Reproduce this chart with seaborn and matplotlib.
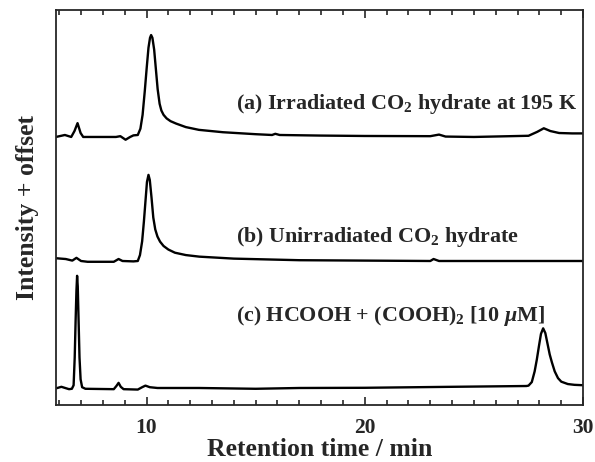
import numpy as np
import pandas as pd
import seaborn as sns
from matplotlib import pyplot as plt
from matplotlib.ticker import MultipleLocator

# chromatogram points (time in min, intensity above own baseline)
time_a = [5.85, 6.26, 6.55, 6.70, 6.84, 6.98, 7.10, 8.60, 8.80, 9.04, 9.25, 9.40, 9.60,
          9.72, 9.82, 9.92, 10.01, 10.09, 10.16, 10.21, 10.27, 10.35, 10.43, 10.51, 10.60,
          10.68, 10.78, 10.92, 11.10, 11.35, 11.8, 12.4, 13.5, 15.0, 15.75, 15.9, 16.1,
          18.0, 20.0, 23.0, 23.4, 23.7, 25.0, 27.5, 27.9, 28.2, 28.5, 28.9, 29.5, 30.0]
int_a = [-0.1, 0.4, -0.1, 1.4, 3.4, 0.9, -0.1, -0.1, 0.1, -0.8, -0.1, 0.3, 0.4,
         2.0, 5.5, 11.5, 17.5, 22.5, 25.0, 25.7, 25.0, 22.0, 17.0, 12.0, 8.3,
         6.6, 5.5, 4.6, 3.9, 3.3, 2.4, 1.7, 1.1, 0.6, 0.4, 0.7, 0.4,
         0.25, 0.15, 0.1, 0.5, 0.0, -0.1, 0.2, 1.2, 2.1, 1.4, 0.9, 0.8, 0.8]

time_b = [5.85, 6.3, 6.6, 6.79, 7.0, 7.3, 8.5, 8.72, 8.9, 9.4, 9.6,
          9.70, 9.80, 9.88, 9.95, 10.02, 10.09, 10.15, 10.23, 10.31, 10.40, 10.50,
          10.62, 10.78, 11.0, 11.3, 11.8, 12.42, 14.0, 17.0, 20.0, 23.0, 23.15, 23.4, 30.0]
int_b = [0.7, 0.5, 0.1, 0.8, 0.0, -0.2, -0.2, 0.5, 0.0, -0.1, 0.0,
         1.5, 5.0, 10.0, 15.0, 20.0, 21.8, 20.5, 16.0, 11.0, 8.0, 6.2,
         4.9, 3.8, 2.9, 2.1, 1.5, 1.1, 0.6, 0.2, 0.1, 0.0, 0.5, 0.0, 0.0]

time_c = [5.85, 6.1, 6.45, 6.58, 6.66, 6.71, 6.75, 6.79, 6.82, 6.85, 6.89, 6.93, 6.98,
          7.05, 7.2, 8.5, 8.62, 8.72, 8.82, 8.95, 9.6, 9.80, 9.95, 10.15, 10.5, 12.4,
          15.0, 17.0, 20.0, 24.0, 27.4, 27.5, 27.65, 27.78, 27.88, 27.98, 28.07, 28.17,
          28.27, 28.37, 28.47, 28.57, 28.7, 28.85, 29.0, 29.3, 29.6, 30.0]
int_c = [0.2, 0.6, 0.0, 0.1, 1.0, 8.0, 17.0, 25.0, 28.7, 26.0, 17.0, 8.0, 2.5,
         0.5, 0.1, 0.0, 0.8, 1.6, 0.6, 0.0, -0.1, 0.5, 0.9, 0.5, 0.3, 0.3,
         0.1, 0.3, 0.35, 0.6, 0.8, 0.9, 1.8, 4.5, 7.5, 11.0, 14.0, 15.4,
         14.2, 11.5, 8.8, 6.8, 4.5, 2.8, 1.9, 1.3, 1.1, 1.0]

offsets = [68.0, 36.5, 4.05]
labels = ["(a) Irradiated CO$_2$ hydrate at 195 K",
          "(b) Unirradiated CO$_2$ hydrate",
          "(c) HCOOH + (COOH)$_2$ [10 $\\mu$M]"]
label_y = [75.1, 41.3, 21.3]

sns.set_style("ticks")
plt.rcParams["font.family"] = ["Liberation Serif", "DejaVu Serif"]
plt.rcParams["font.weight"] = "bold"
plt.rcParams["mathtext.fontset"] = "custom"
plt.rcParams["mathtext.rm"] = "Liberation Serif:bold"
plt.rcParams["mathtext.it"] = "Liberation Serif:bold:italic"
plt.rcParams["mathtext.bf"] = "Liberation Serif:bold"

fig = plt.figure(figsize=(5.95, 4.62), dpi=100)
ax = fig.add_axes([0.094, 0.123, 0.886, 0.855])

traces = [(time_a, int_a), (time_b, int_b), (time_c, int_c)]
for (t, v), off in zip(traces, offsets):
    df = pd.DataFrame({"t": t, "v": np.array(v) + off})
    sns.lineplot(data=df, x="t", y="v", color="black", linewidth=1.7, ax=ax)

for lab, y in zip(labels, label_y):
    ax.text(14.1, y, lab, fontsize=15.8, fontweight="bold", va="baseline", ha="left")

ax.set_xlim(5.85, 30)
ax.set_ylim(0, 100)
ax.xaxis.set_major_locator(MultipleLocator(10))
ax.xaxis.set_minor_locator(MultipleLocator(1))
ax.set_yticks([])
ax.tick_params(axis="x", which="both", direction="in", top=True, bottom=True,
               labelsize=15.5, width=1.2, pad=9)
ax.tick_params(axis="x", which="major", length=6)
ax.tick_params(axis="x", which="minor", length=3.5)
for lab in ax.get_xticklabels():
    lab.set_fontweight("bold")
for sp in ax.spines.values():
    sp.set_visible(True)
    sp.set_linewidth(1.3)

ax.set_xlabel("Retention time / min", fontsize=18.5, fontweight="bold", labelpad=0)
ax.set_ylabel("Intensity + offset", fontsize=18.5, fontweight="bold", labelpad=12)

fig.savefig("out.png", dpi=100)
